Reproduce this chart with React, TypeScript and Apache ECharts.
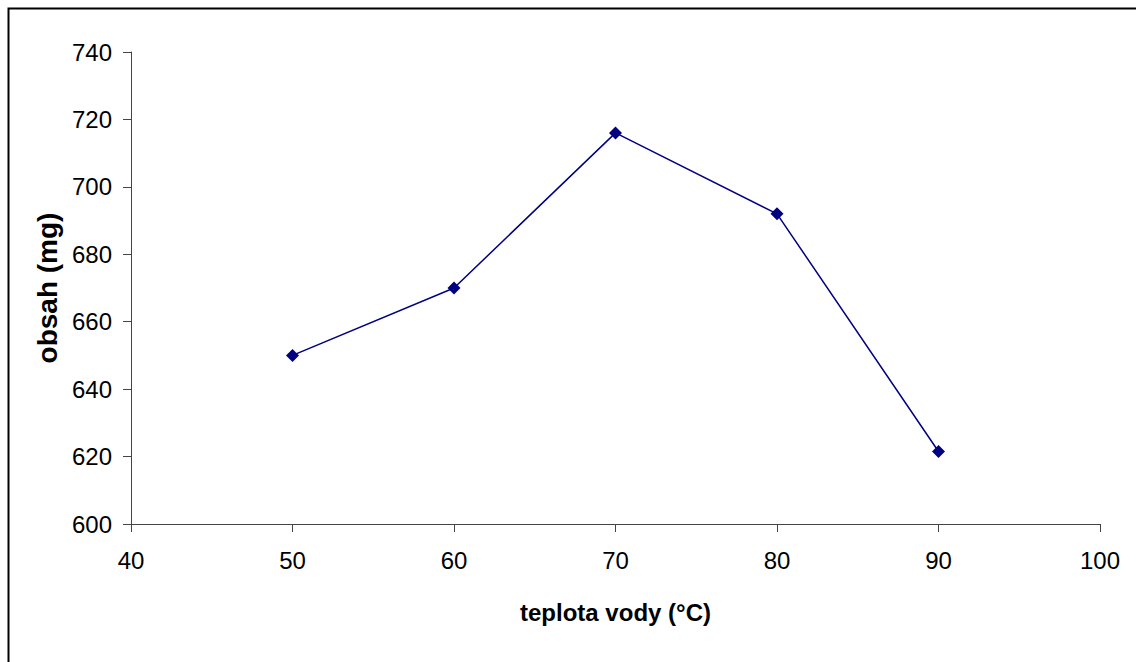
import React, { useEffect, useRef } from "react";
import * as echarts from "echarts";

// Water temperature (°C) and measured content (mg)
const temperatures = [50, 60, 70, 80, 90];
const contents = [650, 670, 716, 692, 621.5];

const xTicks = { min: 40, max: 100, interval: 10 };
const yTicks = { min: 600, max: 740, interval: 20 };

const xName = "teplota vody (°C)";
const yName = "obsah (mg)";

function fontAvailable(name: string): boolean {
  const ctx = document.createElement("canvas").getContext("2d");
  if (!ctx) return false;
  const sample = "0123456789 teplota vody";
  ctx.font = "28px monospace";
  const base = ctx.measureText(sample).width;
  ctx.font = `28px '${name}', monospace`;
  return ctx.measureText(sample).width !== base;
}

export default function App() {
  const ref = useRef<HTMLDivElement>(null);

  useEffect(() => {
    if (!ref.current) return;
    const chart = echarts.init(ref.current, undefined, { renderer: "svg" });

    const narrow = fontAvailable("Liberation Sans Narrow");
    const hFont = narrow ? "'Liberation Sans Narrow', 'Liberation Sans', Arial, sans-serif" : "'Liberation Sans', Arial, sans-serif";
    const hSize = narrow ? 28 : 24;
    const nameSize = narrow ? 29 : 24;

    const axisLine = { show: true, lineStyle: { color: "#444", width: 1 } };
    const axisTick = { show: true, inside: false, length: 8, lineStyle: { color: "#444", width: 1 } };

    const data = temperatures.map((t, i) => [t, contents[i]]);

    chart.setOption({
      animation: false,
      backgroundColor: "#ffffff",
      grid: { left: 131, right: 36, top: 52, bottom: 138, containLabel: false },
      xAxis: {
        type: "value",
        min: xTicks.min,
        max: xTicks.max,
        interval: xTicks.interval,
        splitLine: { show: false },
        axisLine,
        axisTick,
        axisLabel: { color: "#000", fontFamily: hFont, fontSize: hSize, margin: 24 },
        name: xName,
        nameLocation: "middle",
        nameGap: 88,
        nameTextStyle: {
          color: "#000",
          fontFamily: hFont,
          fontSize: nameSize,
          fontWeight: "bold",
          verticalAlign: "middle",
          align: "center",
        },
      },
      yAxis: {
        type: "value",
        min: yTicks.min,
        max: yTicks.max,
        interval: yTicks.interval,
        splitLine: { show: false },
        axisLine,
        axisTick,
        axisLabel: { color: "#000", fontFamily: hFont, fontSize: hSize, margin: 19 },
        name: yName,
        nameLocation: "middle",
        nameRotate: 90,
        nameGap: 82,
        nameTextStyle: {
          color: "#000",
          fontFamily: "'Liberation Sans', Arial, sans-serif",
          fontSize: 28,
          fontWeight: "bold",
          verticalAlign: "middle",
          align: "center",
        },
      },
      graphic: [
        {
          type: "rect",
          left: 6,
          top: 6,
          shape: { x: 0, y: 0, width: 1200, height: 700 },
          style: { fill: "none", stroke: "#000", lineWidth: 2 },
          silent: true,
        },
      ],
      series: [
        {
          type: "line",
          data,
          symbol: "diamond",
          symbolSize: 13,
          showAllSymbol: true,
          lineStyle: { color: "#000080", width: 1.5 },
          itemStyle: { color: "#000080" },
          z: 3,
        },
      ],
    });

    return () => chart.dispose();
  }, []);

  return (
    <div
      ref={ref}
      style={{ position: "fixed", left: 0, top: 0, width: 1136, height: 662 }}
    />
  );
}
